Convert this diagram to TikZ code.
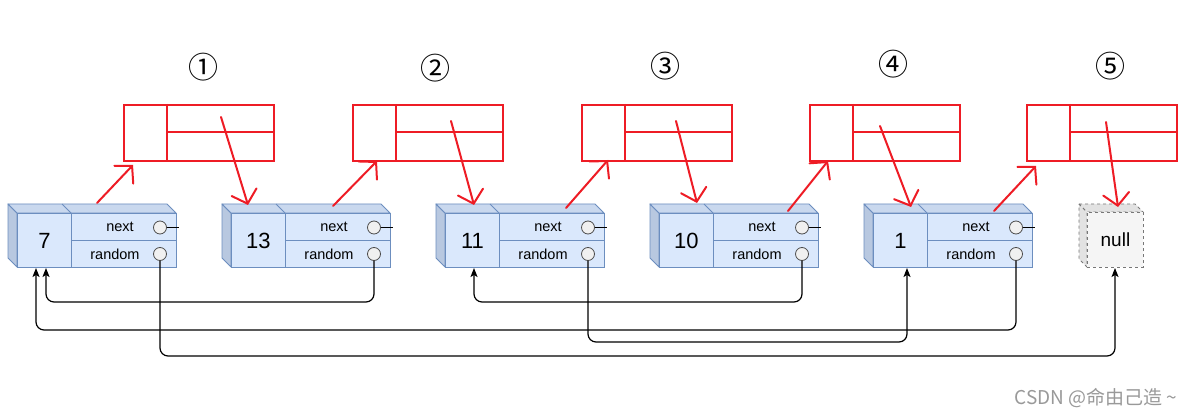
\documentclass[tikz,border=0pt]{standalone}
\usepackage{fontspec}
\setmainfont{Liberation Sans}
\newfontfamily\symfont{Noto Sans CJK SC}
\newfontfamily\cjkfont{Noto Sans CJK SC}
\usetikzlibrary{arrows.meta,calc}
\definecolor{nfill}{HTML}{DAE8FC}
\definecolor{ntop}{HTML}{C9D8EE}
\definecolor{nside}{HTML}{B8C8E0}
\definecolor{nline}{HTML}{6C8EBF}
\definecolor{rline}{HTML}{EE1C25}
\definecolor{gfill}{HTML}{F5F5F5}
\definecolor{gside}{HTML}{E2E2E2}
\definecolor{gline}{HTML}{777777}
\begin{document}
\begin{tikzpicture}[x=1pt,y=-1pt,
  face/.style={fill=nside,draw=nline,line width=0.9pt,line join=round},
  cell/.style={draw=nline,fill=nfill,line width=0.9pt,inner sep=0pt,anchor=north west},
  valcell/.style={cell,minimum width=54pt,minimum height=54pt,font=\fontsize{22}{22}\selectfont},
  fcell/.style={cell,minimum width=105pt,minimum height=27pt},
  lbl/.style={inner sep=0pt,font=\fontsize{14.5}{15}\selectfont},
  port/.style={circle,draw=black!70,fill=black!6,minimum size=13pt,inner sep=0pt,line width=0.8pt},
  stub/.style={draw=black,line width=0.9pt},
  gface/.style={fill=gside,draw=gline,dashed,line width=0.9pt},
  nullbox/.style={draw=gline,dashed,fill=gfill,line width=0.9pt,inner sep=0pt,anchor=north west,
    minimum width=56pt,minimum height=55pt,font=\fontsize{19}{19}\selectfont},
  rbox/.style={draw=rline,line width=2pt,inner sep=0pt,anchor=north west,minimum width=150pt,minimum height=56pt},
  rsep/.style={draw=rline,line width=2pt},
  redarrow/.style={draw=rline,line width=2pt,line cap=round,-{Straight Barb[length=12pt,width=26pt,line cap=round]}},
  rlink/.style={draw=black,line width=1.2pt,rounded corners=8pt,-{Stealth[length=9pt,width=7pt,inset=2pt]}},
  circnum/.style={inner sep=0pt,font=\symfont\fontsize{30}{30}\selectfont}
]
\fill[white] (0,0) rectangle (1196,414);
\useasboundingbox (0,0) rectangle (1196,414);

% circled numbers
\node[circnum] (c1) at (203,67) {①};
\node[circnum] (c2) at (435,68) {②};
\node[circnum] (c3) at (665,66) {③};
\node[circnum] (c4) at (893,64) {④};
\node[circnum] (c5) at (1110,66) {⑤};

% red boxes
\foreach \i/\L in {1/123,2/352,3/581,4/809,5/1026}{
  \node[rbox] (rb\i) at (\L,104) {};
  \draw[rsep] (\L+44,104) -- (\L+44,160);
  \draw[rsep] (\L+44,132) -- (\L+150,132);
}

% list nodes
\foreach \i/\x/\v in {1/17/7,2/231/13,3/445/11,4/659/10,5/873/1}{
  \filldraw[face] (\x-9,204) -- (\x,213) -- (\x,267) -- (\x-9,258) -- cycle;
  \filldraw[face,fill=ntop] (\x-9,204) -- (\x+150,204) -- (\x+159,213) -- (\x,213) -- cycle;
  \draw[nline,line width=0.9pt] (\x+45,204) -- (\x+54,213);
  \node[valcell] (v\i) at (\x,213) {\v};
  \node[fcell] (nx\i) at (\x+54,213) {};
  \node[fcell] (rd\i) at (\x+54,240) {};
  \node[lbl] (tn\i) at (\x+103,227) {next};
  \node[lbl] (tr\i) at (\x+98,254) {random};
  \node[port] (cn\i) at (\x+143,227.5) {};
  \node[port] (cr\i) at (\x+143,254) {};
  \coordinate (se\i) at (\x+162,227.5);
  \draw[stub] (cn\i.east) -- (se\i);
}

% null node
\filldraw[gface] (1079,204) -- (1087,212) -- (1087,267) -- (1079,259) -- cycle;
\filldraw[gface] (1079,204) -- (1135,204) -- (1143,212) -- (1087,212) -- cycle;
\node[nullbox] (nul) at (1087,212) {null};

% red arrows (node -> box, box -> next node)
\foreach \i/\sx/\sy/\tx/\ty in {1/97/203/133/165,2/333/206/377/161,3/566/208/608/160,4/788/211/828/161,5/994/211/1036/166}{
  \coordinate (us\i) at (\sx,\sy);
  \coordinate (ut\i) at (\tx,\ty);
  \draw[redarrow] (us\i) -- (ut\i);
}
\foreach \i/\sx/\sy/\tx/\ty in {1/221/117/248/205,2/451/121/474/205,3/676/121/697/203,4/880/126/911/207,5/1106/122/1118/207}{
  \coordinate (ds\i) at (\sx,\sy);
  \coordinate (dt\i) at (\tx,\ty);
  \draw[redarrow] (ds\i) -- (dt\i);
}

% random links
\coordinate (t7a) at (36,268);
\coordinate (t7b) at (46,268);
\coordinate (t11) at (474,268);
\coordinate (t1) at (907,268);
\coordinate (tn) at (1115,268);
\coordinate (k1) at (1115,356);
\coordinate (k2) at (46,302);
\coordinate (k3) at (907,342);
\coordinate (k4) at (474,302);
\coordinate (k5) at (36,330);
\draw[rlink] (cr1.south) |- (k1) -- (tn);
\draw[rlink] (cr2.south) |- (k2) -- (t7b);
\draw[rlink] (cr3.south) |- (k3) -- (t1);
\draw[rlink] (cr4.south) |- (k4) -- (t11);
\draw[rlink] (cr5.south) |- (k5) -- (t7a);

% watermark
\node[inner sep=0pt,text=black!40,font=\cjkfont\fontsize{19}{19}\selectfont] (wm) at (1096,398) {CSDN @命由己造 \textasciitilde};
\end{tikzpicture}
\end{document}
